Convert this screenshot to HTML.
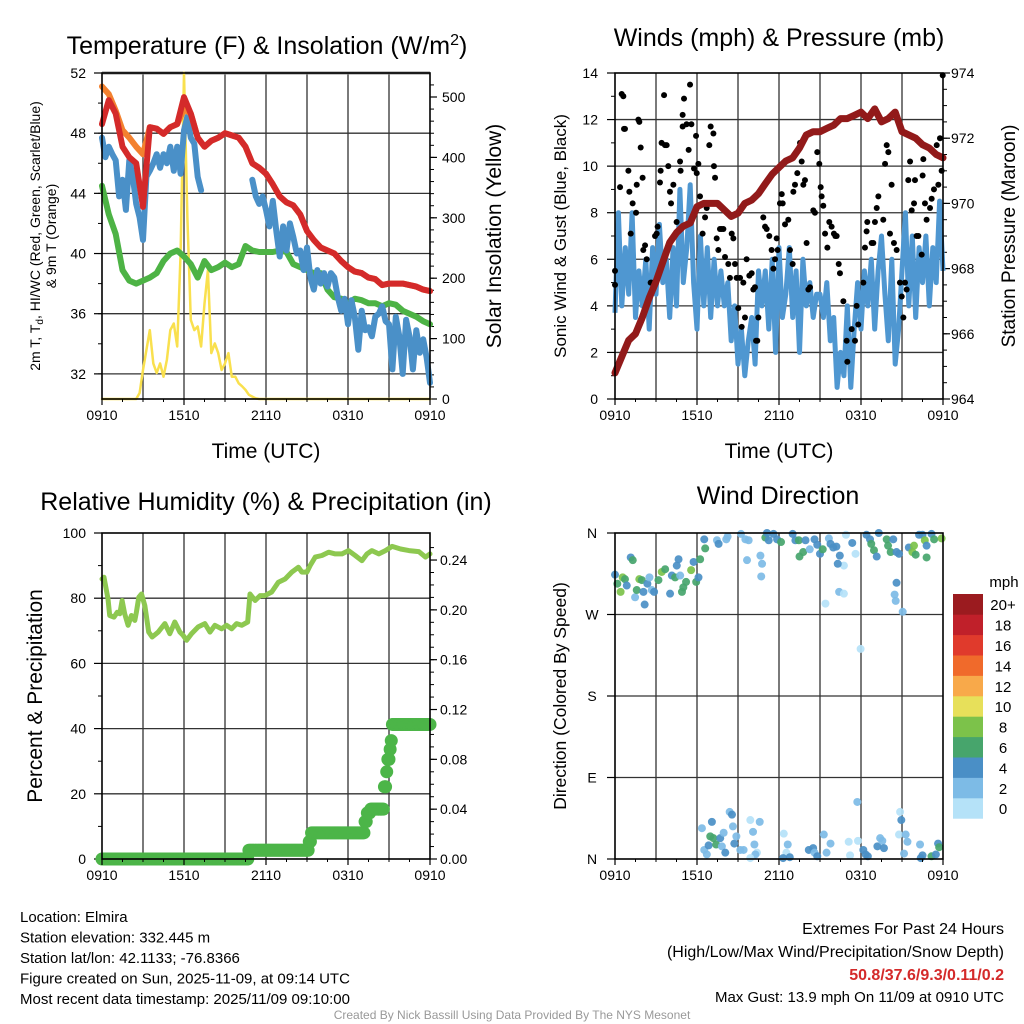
<!DOCTYPE html>
<html><head><meta charset="utf-8">
<style>
html,body{margin:0;padding:0;background:#fff;}
svg{display:block;font-family:"Liberation Sans",sans-serif;}
</style></head>
<body>
<svg id="c" width="1024" height="1024" viewBox="0 0 1024 1024" xmlns="http://www.w3.org/2000/svg"></svg>
<script>
// ---------- DATA ----------
const timeLabels = ["0910","1510","2110","0310","0910"];
const tempRed = [48.6,50.2,49.3,47.1,46.4,46.0,43.1,48.4,48.3,47.96,48.4,48.6,50.4,49.3,47.7,47.1,47.5,47.7,48.0,47.85,47.7,47.1,46.0,45.7,45.3,44.6,43.8,43.4,43.2,42.6,41.5,40.9,40.4,40.2,40.0,39.5,39.1,38.8,38.7,38.4,38.3,37.9,38.0,38.0,38.0,37.9,37.8,37.6,37.5];
const temp9m = [51.1,50.6,49.5,48.2,47.7,47.1,46.6,48.4,48.3,47.96,48.4,48.6,49.6,49.3,47.7,47.1,47.5,47.7,48.0,47.85,47.7,47.1,46.0,45.7,45.3,44.6,43.8,43.4,43.2,42.6,41.5,40.9,40.4,40.2,40.0,39.5,39.1,38.8,38.7,38.4,38.3,37.9,38.0,38.0,38.0,37.9,37.8,37.6,37.5];
const dewpoint = [44.5,42.6,41.3,38.9,38.2,38.0,38.2,38.4,38.7,39.5,40.0,40.2,39.8,39.3,38.4,39.5,38.9,39.1,39.4,39.1,39.3,40.5,40.2,40.1,40.1,40.1,40.2,40.1,39.3,39.1,38.9,38.7,38.7,37.6,37.1,37.0,36.7,37.0,36.9,36.7,36.7,36.5,36.7,36.6,36.2,36.0,35.8,35.5,35.3];
const windChill = [47.7,46.4,47.1,46.6,46.2,43.8,44.9,42.9,46.2,45.1,43.3,42.4,40.9,45.1,45.5,46.0,46.6,45.7,46.6,46.0,47.1,45.5,47.1,45.3,48.2,49.1,47.7,47.3,45.1,44.2,
 null,null,null,null,null,null,null,null,null,null,null,null,null,null,
 44.9,43.8,43.3,43.8,42.9,41.8,43.5,41.5,39.8,41.8,40.2,42.0,41.1,40.0,40.2,38.9,40.4,38.4,37.6,38.9,38.0,38.7,37.8,38.7,38.4,37.1,36.2,37.0,35.3,36.9,35.8,33.6,36.2,34.9,35.1,34.5,35.8,36.0,36.5,35.5,35.3,32.3,35.8,34.5,32.0,35.6,34.5,32.3,34.9,33.4,34.3,33.1,31.4];
const insolation = [0,0,0,0,0,0,0,0,0,0,0,10,
 48,81,114,59,43,59,37,65,114,125,87,241,540,300,131,114,120,87,158,213,76,92,76,48,59,76,37,37,26,21,15,7,4,1,0,0,
 0,0,0,0,0,0,0,0,0,0,0,0,0,0,0,0,0,0,0,0,0,0,0,0,0,0,0,0,0,0,0,0,0,0,0,0,0,0,0,0,0,0,0,0,0,0,0,0,0];
const tempTicks = [32,36,40,44,48,52];
const insolTicks = [0,100,200,300,400,500];
const windSpeed = [3.7,8.0,4.0,6.5, 4.5,8.0,3.5,5.5, 4.0,6.0,3.0,6.5, 4.5,7.5,5.0,6.0, 3.5,6.5,4.0,9.0, 5.0,6.5,9.2,5.0, 3.0,7.0,4.0,6.5, 3.5,6.0,4.0,5.5, 4.0,5.0,2.5,4.0, 1.5,3.0,1.0,2.5, 3.5,1.5,5.5,4.0, 5.5,3.0,6.0,2.0, 6.5,3.5,4.5,6.5, 3.5,5.5,2.0,6.0, 4.0,5.0,3.5,4.5, 4.5,3.5,5.0,2.5, 3.5,0.5,2.0,1.0, 4.0,0.5,3.0,5.0, 3.0,5.5,4.0,6.0, 3.0,5.5,7.0,4.5, 2.5,6.0,1.5,3.0, 5.5,8.0,4.0,7.0, 3.5,6.5,5.0,7.0, 4.0,6.5,5.0,8.5, 5.5];
const pressure = [964.8,965.3,965.8,966.0,966.5,967.1,967.6,968.2,968.8,969.1,969.3,969.4,969.9,970.0,970.0,970.0,969.8,969.6,969.7,970.0,970.1,970.3,970.6,970.9,971.1,971.3,971.4,971.7,972.1,972.2,972.2,972.3,972.4,972.6,972.6,972.7,972.8,972.6,972.9,972.5,972.6,972.8,972.2,972.1,972.0,971.8,971.7,971.5,971.4];
const gustHours = [0.49,0.61,0,0,0.66,0.73,0.37,0.98,1.05,1.29,1.59,1.71,1.78,1.88,2.02,1.15,1.54,2.07,2.2,2.32,2.61,2.68,2.93,3.05,3.12,3.29,3.34,3.41,3.66,3.78,3.9,3.59,4.02,4.1,4.27,4.51,4.63,4.76,4.8,4.95,5.05,4.95,5.24,5.39,5.49,5.59,5.78,5.93,5.98,6.1,6.22,6.41,6.59,6.71,6.9,7.0,7.2,7.24,7.32,7.44,7.56,7.68,7.8,7.93,8.05,8.29,8.54,8.66,8.78,8.41,8.9,9.15,9.02,9.27,9.39,9.51,9.63,9.83,10.0,10.12,10.24,10.32,10.41,10.49,10.85,10.98,11.1,11.29,11.46,11.59,11.71,11.83,11.9,12.07,12.2,12.27,12.44,12.68,12.8,13.0,13.05,13.17,13.34,13.54,13.66,13.78,13.9,14.02,14.15,14.27,14.51,14.63,14.8,14.95,15.05,15.12,15.24,15.37,15.54,15.68,15.85,16.02,16.12,16.22,16.37,16.46,16.71,16.95,17.0,17.32,17.56,17.68,17.8,18.17,18.29,18.41,18.46,18.78,18.9,19.02,19.15,19.27,19.63,19.76,19.88,20.0,20.12,20.24,20.41,20.61,20.85,20.98,21.1,21.22,21.34,21.46,21.59,21.71,21.88,21.95,22.07,22.2,22.44,22.51,22.56,22.68,22.8,23.05,23.17,23.34,23.54,23.66,23.78,23.9,23.98];
const gustVals = [13.1,13.0,5.5,4.9,11.6,11.6,9.1,9.8,8.9,8.4,9.2,12.0,11.9,10.8,9.5,7.1,8.0,6.4,6.6,6.0,5.0,5.0,7.0,7.1,7.4,9.3,9.8,11.0,10.9,10.9,10.0,13.05,8.9,8.4,9.2,7.6,7.2,10.2,9.8,11.7,12.9,12.2,11.8,10.7,13.5,11.8,9.9,11.3,9.7,10.1,8.7,7.1,7.8,8.2,10.9,11.7,11.4,10.0,9.5,6.9,6.4,7.3,7.3,7.3,6.1,5.8,7.1,6.9,5.8,5.2,5.2,5.2,3.9,3.1,5.0,3.5,6.0,5.3,5.4,4.7,4.8,2.5,2.5,3.5,7.8,7.4,7.3,7.0,6.4,5.6,6.0,6.9,6.4,8.4,8.8,8.4,7.5,7.7,6.4,5.8,8.9,9.2,9.7,11.0,10.2,9.2,9.4,6.7,4.7,4.8,8.1,8.0,10.6,10.1,9.1,8.7,8.3,7.1,6.5,7.6,7.4,7.1,7.0,7.0,5.8,5.4,4.2,2.5,1.6,3.0,2.5,4.0,3.2,5.0,6.5,7.2,7.6,6.7,6.7,7.6,8.2,8.7,7.7,10.1,10.9,10.6,7.1,9.2,6.7,6.4,5.0,4.4,3.5,5.0,4.7,9.4,10.2,8.1,8.4,9.4,7.0,7.0,6.2,9.6,10.3,8.4,7.7,8.2,8.6,9.0,10.9,9.2,11.2,9.8,13.9];
const windTicks = [0,2,4,6,8,10,12,14];
const pressTicks = [964,966,968,970,972,974];
const rhHours = [0,0.15,0.44,0.56,0.88,1.12,1.30,1.47,1.66,1.91,2.15,2.40,2.52,2.69,2.89,3.13,3.42,3.67,4.11,4.60,4.96,5.33,5.70,5.94,6.19,6.55,7.04,7.53,7.90,8.26,8.75,9.12,9.49,9.85,10.22,10.66,10.83,11.20,11.57,11.93,12.42,12.91,13.40,13.89,14.37,14.62,14.99,15.23,15.60,16.09,16.58,17.07,17.56,18.04,18.53,19.02,19.39,19.75,20.25,20.74,21.23,21.85,22.46,23.18,23.67,24.0];
const rhVals = [85.9,86.4,79.8,74.7,74.2,75.7,75.2,79.3,75.2,71.7,74.7,73.2,75.7,80.3,81.3,77.8,69.6,68.1,69.6,72.2,69.1,72.7,69.6,68.6,67.1,69.1,71.2,72.2,69.6,71.7,70.6,71.7,70.6,72.2,71.7,72.7,81.3,79.3,80.8,80.8,81.9,84.9,85.9,88.0,89.5,88.0,88.0,90.0,92.6,93.1,94.1,93.6,93.6,94.6,93.1,91.5,93.6,94.6,93.6,94.6,95.9,95.1,94.6,94.3,92.6,93.6];
const precipHours = [0,10.75,15.1,15.3,19.2,19.4,19.6,20.6,20.75,20.9,21.0,21.1,21.2];
const precipVals = [0,0.007,0.014,0.021,0.03,0.037,0.04,0.058,0.07,0.08,0.088,0.095,0.108];
const rhTicks = [0,20,40,60,80,100];
const precipTicks = ["0.00","0.04","0.08","0.12","0.16","0.20","0.24"];
const dirHours = [0,0.17,0.41,0.56,0.73,0.86,1.15,1.3,1.47,1.59,1.78,1.96,2.08,2.17,2.37,2.52,2.69,2.86,3.18,3.42,3.67,4.03,4.16,4.4,4.52,4.65,4.77,4.9,5.0,5.2,5.57,5.75,5.94,6.11,6.23,
 6.53,6.6,7.46,7.58,8.14,8.24,9.22,9.54,9.78,9.66,10.64,10.76,10.7,11.0,11.12,11.25,11.6,11.86,12.15,13.0,13.2,13.45,13.5,13.77,13.94,14.25,14.6,14.8,15.0,15.2,15.4,15.65,15.77,15.97,16.2,16.4,16.45,16.75,16.75,16.3,16.9,17.36,17.6,17.97,18.4,18.66,18.75,18.95,19.15,19.3,19.88,19.98,20.17,20.36,20.6,20.78,20.6,20.46,20.54,21.05,21.5,21.76,21.88,22.0,22.25,22.5,22.67,22.8,22.8,23.16,23.35,23.9,
 6.36,6.53,6.72,6.85,6.97,7.09,7.2,7.4,7.7,7.82,7.95,8.07,8.39,8.56,8.63,8.73,8.88,9.17,9.41,9.9,10.1,10.2,10.39,10.27,10.59,9.9,12.35,12.64,12.54,12.79,12.3,14.18,14.5,14.6,14.8,15.28,15.48,15.77,17.1,17.2,17.73,17.78,18.17,18.34,18.5,19.2,19.4,19.56,19.68,20.86,20.95,20.78,21.27,21.4,21.15,22.32,22.5,22.37,23.16,23.48,23.64,23.72];
const dirDeg = [314,304,295,311,309,302,333,330,289,297,309,308,295,281,304,311,297,295,308,317,320,293,313,311,324,331,313,295,300,306,319,328,306,311,331,
 353,343,352,348,353,356,359,353,352,330,335,326,312,355,360,352,359,353,350,359,352,352,334,339,352,342,353,347,337,342,282,354,348,344,345,295,335,293,324,326,358,349,337,232,358,353,348,341,334,360,353,346,339,353,339,337,305,292,285,273,344,339,346,336,358,358,352,346,333,359,353,354,
 34,10,5,15,25,41,23,16,23,14,29,7,52,49,36,17,25,10,10,43,30,16,7,5,41,1,28,16,7,2,1,10,12,7,3,27,7,17,19,4,63,20,10,5,3,14,23,20,12,52,43,27,27,19,6,16,4,1,3,5,17,13];
const dirSpeed = [5,7,9,9,7,5,5,7,3,7,9,7,5,5,5,3,3,5,7,9,7,5,5,7,5,5,3,7,7,7,9,5,7,5,7,
 5,7,3,5,3,3,3,3,3,3,3,3,3,7,5,5,5,5,7,5,5,7,7,7,5,3,5,5,5,7,1,3,5,5,5,3,5,1,1,5,1,5,1,1,5,5,7,7,5,5,7,7,7,5,5,5,5,3,3,3,5,9,9,7,5,5,9,5,7,5,7,9,
 3,3,3,5,7,5,7,7,5,3,3,5,3,5,3,5,3,3,3,1,3,3,1,3,3,1,1,3,1,5,5,5,5,3,5,3,3,3,1,1,3,1,5,5,5,5,3,3,5,1,5,1,3,3,3,3,5,5,7,5,5,7];
const dirLabels = ["N","E","S","W","N"];
const legendLabels = ["0","2","4","6","8","10","12","14","16","18","20+"];
const legendColors = ["#b5e2f8","#7dbbe6","#4a8fc6","#47a56c","#7cc24a","#e7e05a","#f8a94a","#f06a2b","#e03a2c","#c0202a","#9b1b1f"];

// ---------- RENDER ----------
const NS="http://www.w3.org/2000/svg";
const svg=document.getElementById('c');
function mk(tag,attrs,parent){const e=document.createElementNS(NS,tag);for(const k in attrs)e.setAttribute(k,attrs[k]);(parent||svg).appendChild(e);return e;}
function txt(s,x,y,size,anchor,parent,extra){const t=mk('text',Object.assign({x:x,y:y,'font-size':size,'text-anchor':anchor||'middle',fill:'#000'},extra||{}),parent);t.textContent=s;return t;}
function grp(name){const g=mk('g',{});return g;}

function panel(name,L,R,T,B){
  const g=grp(name);
  for(let i=1;i<8;i++){const x=L+(R-L)*i/8;const l=mk('line',{x1:x,x2:x,y1:T,y2:B,stroke:'#333','stroke-width':1.3},g);}
  return g;
}
function frame(g,L,R,T,B){const r=mk('rect',{x:L,y:T,width:R-L,height:B-T,fill:'none',stroke:'#000','stroke-width':1.6},g);}
function xAxis(g,L,R,B){
  const xs=h=>L+(R-L)*h/24;
  for(let i=0;i<timeLabels.length;i++){const t=txt(timeLabels[i],xs(i*6),B+21,14,'middle',g);
    mk('line',{x1:xs(i*6),x2:xs(i*6),y1:B,y2:B+6,stroke:'#000','stroke-width':1.2},g);}
  for(let h=0;h<=24;h+=1.5){mk('line',{x1:xs(h),x2:xs(h),y1:B,y2:B+3,stroke:'#000','stroke-width':1},g);}
}
function pathFrom(xs,ys,hours,vals){let d='',pen=false;for(let i=0;i<vals.length;i++){if(vals[i]==null){pen=false;continue;}d+=(pen?'L':'M')+xs(hours(i)).toFixed(1)+','+ys(vals[i]).toFixed(1);pen=true;}return d;}

// ===== Panel 1 =====
(function(){
  const L=102,R=430,T=73,B=399;
  const xs=h=>L+(R-L)*h/24;
  const yT=v=>B-(v-30.33)*(B-T)/21.67;
  const yI=v=>B-v*0.604;
  const g=panel('temperature-panel',L,R,T,B);
  tempTicks.forEach(v=>{const l=mk('line',{x1:L,x2:R,y1:yT(v),y2:yT(v),stroke:v==52?'#888':'#333','stroke-width':v==52?3:1.3},g);
    const t=txt(String(v),L-16,yT(v)+5,14,'end',g);
    mk('line',{x1:L-8,x2:L,y1:yT(v),y2:yT(v),stroke:'#000','stroke-width':1.2},g);});
  for(let v=32;v<52;v+=2){mk('line',{x1:L-4,x2:L,y1:yT(v),y2:yT(v),stroke:'#000'},g);}
  insolTicks.forEach(v=>{const t=txt(String(v),R+12,yI(v)+5,14,'start',g);
    mk('line',{x1:R,x2:R+7,y1:yI(v),y2:yI(v),stroke:'#000','stroke-width':1.2},g);});
  for(let v=0;v<=520;v+=20){mk('line',{x1:R,x2:R+4,y1:yI(v),y2:yI(v),stroke:'#000'},g);}
  const s1=(arr,col,w,name,yf)=>{const n=arr.length;const p=mk('path',{d:pathFrom(xs,yf||yT,i=>24*i/(n-1),arr),fill:'none',stroke:col,'stroke-width':w,'stroke-linejoin':'round','stroke-linecap':'round'},g);};
  s1(insolation,'#f9e04e',2.5,'insolation-line',yI);
  s1(dewpoint,'#4db345',6,'dewpoint-line');
  s1(windChill,'#4a90c8',6,'wind-chill-line');
  s1(temp9m,'#f3812f',6,'temp-9m-line');
  s1(tempRed,'#d42a2a',6,'temp-2m-line');
  frame(g,L,R,T,B); xAxis(g,L,R,B);
  let t=mk('text',{x:267,y:54,'font-size':25,'text-anchor':'middle'},g);t.innerHTML='Temperature (F) &amp; Insolation (W/m<tspan dy="-9" font-size="16">2</tspan><tspan dy="9">)</tspan>';
  t=txt('Time (UTC)',266,458,21,'middle',g);
  t=txt('Solar Insolation (Yellow)',0,0,21,'middle',g,{transform:'translate(501,236) rotate(-90)'});
  t=mk('text',{'font-size':14,'text-anchor':'middle',transform:'translate(40,236) rotate(-90)'},g);t.innerHTML='2m T, T<tspan dy="3" font-size="10">d</tspan><tspan dy="-3">, HI/WC (Red, Green, Scarlet/Blue)</tspan>';
  t=txt('& 9m T (Orange)',0,0,14,'middle',g,{transform:'translate(56,236) rotate(-90)'});
})();

// ===== Panel 2 =====
(function(){
  const L=615,R=943,T=73,B=399;
  const xs=h=>L+(R-L)*h/24;
  const yW=v=>B-v*(B-T)/14;
  const yP=v=>B-(v-964)*(B-T)/10;
  const g=panel('winds-panel',L,R,T,B);
  windTicks.forEach(v=>{if(v>0&&v<14){const l=mk('line',{x1:L,x2:R,y1:yW(v),y2:yW(v),stroke:'#333','stroke-width':1.3},g);}
    const t=txt(String(v),L-17,yW(v)+5,14,'end',g);
    mk('line',{x1:L-8,x2:L,y1:yW(v),y2:yW(v),stroke:'#000','stroke-width':1.2},g);});
  for(let v=1;v<14;v+=2){mk('line',{x1:L-4,x2:L,y1:yW(v),y2:yW(v),stroke:'#000'},g);}
  pressTicks.forEach(v=>{const t=txt(String(v),R+8,yP(v)+5,14,'start',g);
    mk('line',{x1:R,x2:R+7,y1:yP(v),y2:yP(v),stroke:'#000','stroke-width':1.2},g);});
  for(let v=964;v<=974;v+=0.5){mk('line',{x1:R,x2:R+4,y1:yP(v),y2:yP(v),stroke:'#000'},g);}
  let n=windSpeed.length;
  let p=mk('path',{d:pathFrom(xs,yW,i=>24*i/(n-1),windSpeed),fill:'none',stroke:'#4f97d1','stroke-width':5,'stroke-linejoin':'round'},g);
  gustHours.forEach((h,i)=>{const c=mk('circle',{cx:xs(h),cy:yW(gustVals[i]),r:3,fill:'#000'},g);});
  n=pressure.length;
  p=mk('path',{d:pathFrom(xs,yP,i=>24*i/(n-1),pressure),fill:'none',stroke:'#921a1a','stroke-width':7,'stroke-linejoin':'round','stroke-linecap':'round'},g);
  frame(g,L,R,T,B); xAxis(g,L,R,B);
  let t=txt('Winds (mph) & Pressure (mb)',779,46,25,'middle',g);
  t=txt('Time (UTC)',779,458,21,'middle',g);
  t=txt('Sonic Wind & Gust (Blue, Black)',0,0,17,'middle',g,{transform:'translate(566,236) rotate(-90)'});
  t=txt('Station Pressure (Maroon)',0,0,19,'middle',g,{transform:'translate(1015,236) rotate(-90)'});
})();

// ===== Panel 3 =====
(function(){
  const L=102,R=430,T=533,B=859;
  const xs=h=>L+(R-L)*h/24;
  const yR=v=>B-v*(B-T)/100;
  const yPr=v=>B-v*(B-T)/0.2617;
  const g=panel('humidity-panel',L,R,T,B);
  rhTicks.forEach(v=>{if(v>0&&v<100){const l=mk('line',{x1:L,x2:R,y1:yR(v),y2:yR(v),stroke:'#333','stroke-width':1.3},g);}
    const t=txt(String(v),L-16,yR(v)+5,14,'end',g);
    mk('line',{x1:L-8,x2:L,y1:yR(v),y2:yR(v),stroke:'#000','stroke-width':1.2},g);});
  for(let v=10;v<100;v+=20){mk('line',{x1:L-4,x2:L,y1:yR(v),y2:yR(v),stroke:'#000'},g);}
  precipTicks.forEach(s=>{const v=parseFloat(s);const t=txt(s,R+10,yPr(v)+5,14,'start',g);
    mk('line',{x1:R,x2:R+7,y1:yPr(v),y2:yPr(v),stroke:'#000','stroke-width':1.2},g);});
  for(let v=0.01;v<0.26;v+=0.01){mk('line',{x1:R,x2:R+4,y1:yPr(v),y2:yPr(v),stroke:'#000'},g);}
  let p=mk('path',{d:pathFrom(xs,yR,i=>rhHours[i],rhVals),fill:'none',stroke:'#8dc850','stroke-width':5,'stroke-linejoin':'round','stroke-linecap':'round'},g);
  let k=0;
  for(let h=0;h<=24.001;h+=1/12){while(k+1<precipHours.length&&precipHours[k+1]<=h)k++;const c=mk('circle',{cx:xs(h),cy:yPr(precipVals[k]),r:6.5,fill:'#4cb548'},g);}
  frame(g,L,R,T,B); xAxis(g,L,R,B);
  let t=txt('Relative Humidity (%) & Precipitation (in)',266,510,25,'middle',g);
  t=txt('Percent & Precipitation',0,0,21,'middle',g,{transform:'translate(42,696) rotate(-90)'});
})();

// ===== Panel 4 =====
(function(){
  const L=615,R=943,T=533,B=859;
  const xs=h=>L+(R-L)*h/24;
  const yD=v=>B-v*(B-T)/360;
  const g=panel('wind-direction-panel',L,R,T,B);
  dirLabels.forEach((s,i)=>{const v=i*90;if(i>0&&i<4){const l=mk('line',{x1:L,x2:R,y1:yD(v),y2:yD(v),stroke:'#333','stroke-width':1.3},g);}
    const t=txt(s,592,yD(v)+5,14,'middle',g);
    mk('line',{x1:L-8,x2:L,y1:yD(v),y2:yD(v),stroke:'#000','stroke-width':1.2},g);});
  dirHours.forEach((h,i)=>{const ci=Math.min(10,Math.floor(dirSpeed[i]/2));const c=mk('circle',{cx:xs(h),cy:yD(dirDeg[i]),r:4,fill:legendColors[ci],'fill-opacity':0.92},g);});
  frame(g,L,R,T,B); xAxis(g,L,R,B);
  let t=txt('Wind Direction',778,504,25,'middle',g);
  t=txt('Direction (Colored By Speed)',0,0,17.5,'middle',g,{transform:'translate(566,696) rotate(-90)'});
  const lg=grp('speed-legend');
  const top=594,bh=20.4;
  legendLabels.forEach((s,i)=>{const y=top+(10-i)*bh;const r=mk('rect',{x:953,y:y,width:30,height:bh+0.3,fill:legendColors[i]},lg);
    const tt=txt(s,1003,y+bh/2+6,15,'middle',lg);});
  t=txt('mph',1004,587,15,'middle',lg);
})();

// ===== Footer text =====
(function(){
  const g=grp('station-info');
  const lines=["Location: Elmira","Station elevation: 332.445 m","Station lat/lon: 42.1133; -76.8366","Figure created on Sun, 2025-11-09, at 09:14 UTC","Most recent data timestamp: 2025/11/09 09:10:00"];
  lines.forEach((s,i)=>{const t=txt(s,20,922+i*20.5,15,'start',g);});
  const g2=grp('extremes-info');
  let t=txt('Extremes For Past 24 Hours',1004,934,16,'end',g2);
  t=txt('(High/Low/Max Wind/Precipitation/Snow Depth)',1004,957,16,'end',g2);
  t=txt('50.8/37.6/9.3/0.11/0.2',1004,980,16,'end',g2,{fill:'#d42a2a','font-weight':'bold'});
  t=txt('Max Gust: 13.9 mph On 11/09 at 0910 UTC',1004,1002,15,'end',g2);
  t=txt('Created By Nick Bassill Using Data Provided By The NYS Mesonet',512,1019,12,'middle',svg,{fill:'#999'});
})();
</script>
</body></html>
